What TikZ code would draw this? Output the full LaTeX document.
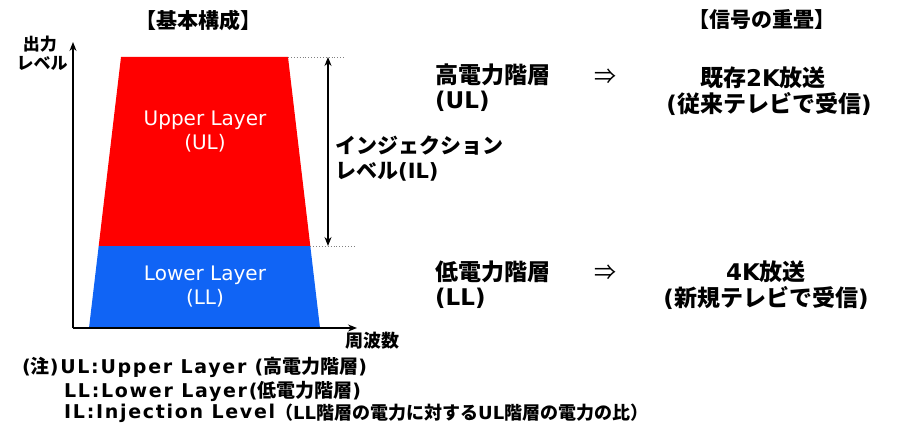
\documentclass[tikz,border=0pt]{standalone}
\usepackage{fontspec}
\usetikzlibrary{arrows.meta}
\newfontfamily\jp{Noto Sans CJK JP}
\newfontfamily\dv{DejaVu Sans}
\newfontfamily\dvs{DejaVu Sans}[LetterSpace=9]
\newcommand{\lat}[1]{{\dv\bfseries #1}}
\newcommand{\latn}[1]{{\dvs\bfseries #1}}
\definecolor{ulred}{RGB}{255,0,0}
\definecolor{llblue}{RGB}{16,100,245}
\tikzset{
  lbl/.style={inner sep=0pt, font=\jp\bfseries\fontsize{#1}{#1}\selectfont},
  layertxt/.style={inner sep=0pt, text=white, font=\dv\fontsize{20}{20}\selectfont},
  axis/.style={line width=1.4pt, -{Stealth[length=9pt,width=7pt]}},
  guide/.style={gray, dotted, line width=0.9pt},
  ilarrow/.style={line width=1.3pt, {Stealth[length=9pt,width=7pt]}-{Stealth[length=9pt,width=7pt]}},
}
\begin{document}
\begin{tikzpicture}[x=1pt,y=-1pt]
\useasboundingbox (0,0) rectangle (899,425);
% layers
\fill[ulred] (121,57) -- (288,57) -- (310.3,246) -- (98.7,246) -- cycle;
\fill[llblue] (98.7,246) -- (310.3,246) -- (320,328) -- (89,328) -- cycle;
% coordinates
\coordinate (o) at (73,328);
\coordinate (ytip) at (73,42);
\coordinate (xtip) at (357,328);
\coordinate (ultr) at (288,57);
\coordinate (ulend) at (345,57);
\coordinate (llr) at (310.3,246);
\coordinate (llend) at (355,246);
\coordinate (iltop) at (328,57);
\coordinate (ilbot) at (328,246);
% axes
\draw[axis] (o) -- (ytip);
\draw[axis] (o) -- (xtip);
\draw[guide] (ultr) -- (ulend);
\draw[guide] (llr) -- (llend);
\draw[ilarrow] (iltop) -- (ilbot);
% titles
\node[lbl=21] (t1) at (198,21) {【基本構成】};
\node[lbl=21] (t2) at (762,20) {【信号の重畳】};
\node[lbl=17] (yl1) at (40,44) {出力};
\node[lbl=17] (yl2) at (42,63) {レベル};
\node[lbl=18] (xl) at (372,341) {周波数};
% layer labels
\node[layertxt] (ul1) at (205,120) {Upper Layer};
\node[layertxt] (ul2) at (205,143) {(UL)};
\node[layertxt] (ll1) at (205,275) {Lower Layer};
\node[layertxt] (ll2) at (205,298) {(LL)};
% IL label
\node[lbl=21, anchor=west] (il1) at (335,146) {インジェクション};
\node[lbl=21, anchor=west] (il2) at (335,172) {レベル\lat{(IL)}};
% right side
\node[lbl=23, anchor=west] (h1) at (435,75) {高電力階層};
\node[lbl=23, anchor=west] (h2) at (435,101) {\lat{(UL)}};
\node[inner sep=0pt, font=\jp\fontsize{22}{22}\selectfont] (a1) at (605,77) {⇒};
\node[lbl=23] (r1) at (763,78) {既存\lat{2K}放送};
\node[lbl=23] (r2) at (769,104) {\lat{(}従来テレビで受信\lat{)}};
\node[lbl=23, anchor=west] (l1) at (435,272) {低電力階層};
\node[lbl=23, anchor=west] (l2) at (435,298) {\lat{(LL)}};
\node[inner sep=0pt, font=\jp\fontsize{22}{22}\selectfont] (a2) at (605,273) {⇒};
\node[lbl=23] (r3) at (766,272) {\lat{4K}放送};
\node[lbl=23] (r4) at (766,298) {\lat{(}新規テレビで受信\lat{)}};
% notes
\node[lbl=19, anchor=west] (n1) at (22,367) {\latn{(}注\latn{)UL:Upper Layer (}高電力階層\latn{)}};
\node[lbl=19, anchor=west] (n2) at (64,391) {\latn{LL:Lower Layer(}低電力階層\latn{)}};
\node[lbl=19, anchor=west] (n3) at (64,413) {\latn{IL:Injection Level}};
\node[lbl=18, anchor=west, fill=white, inner sep=1pt] (n4) at (274,413) {（\lat{LL}階層の電力に対する\lat{UL}階層の電力の比）};
\end{tikzpicture}
\end{document}
